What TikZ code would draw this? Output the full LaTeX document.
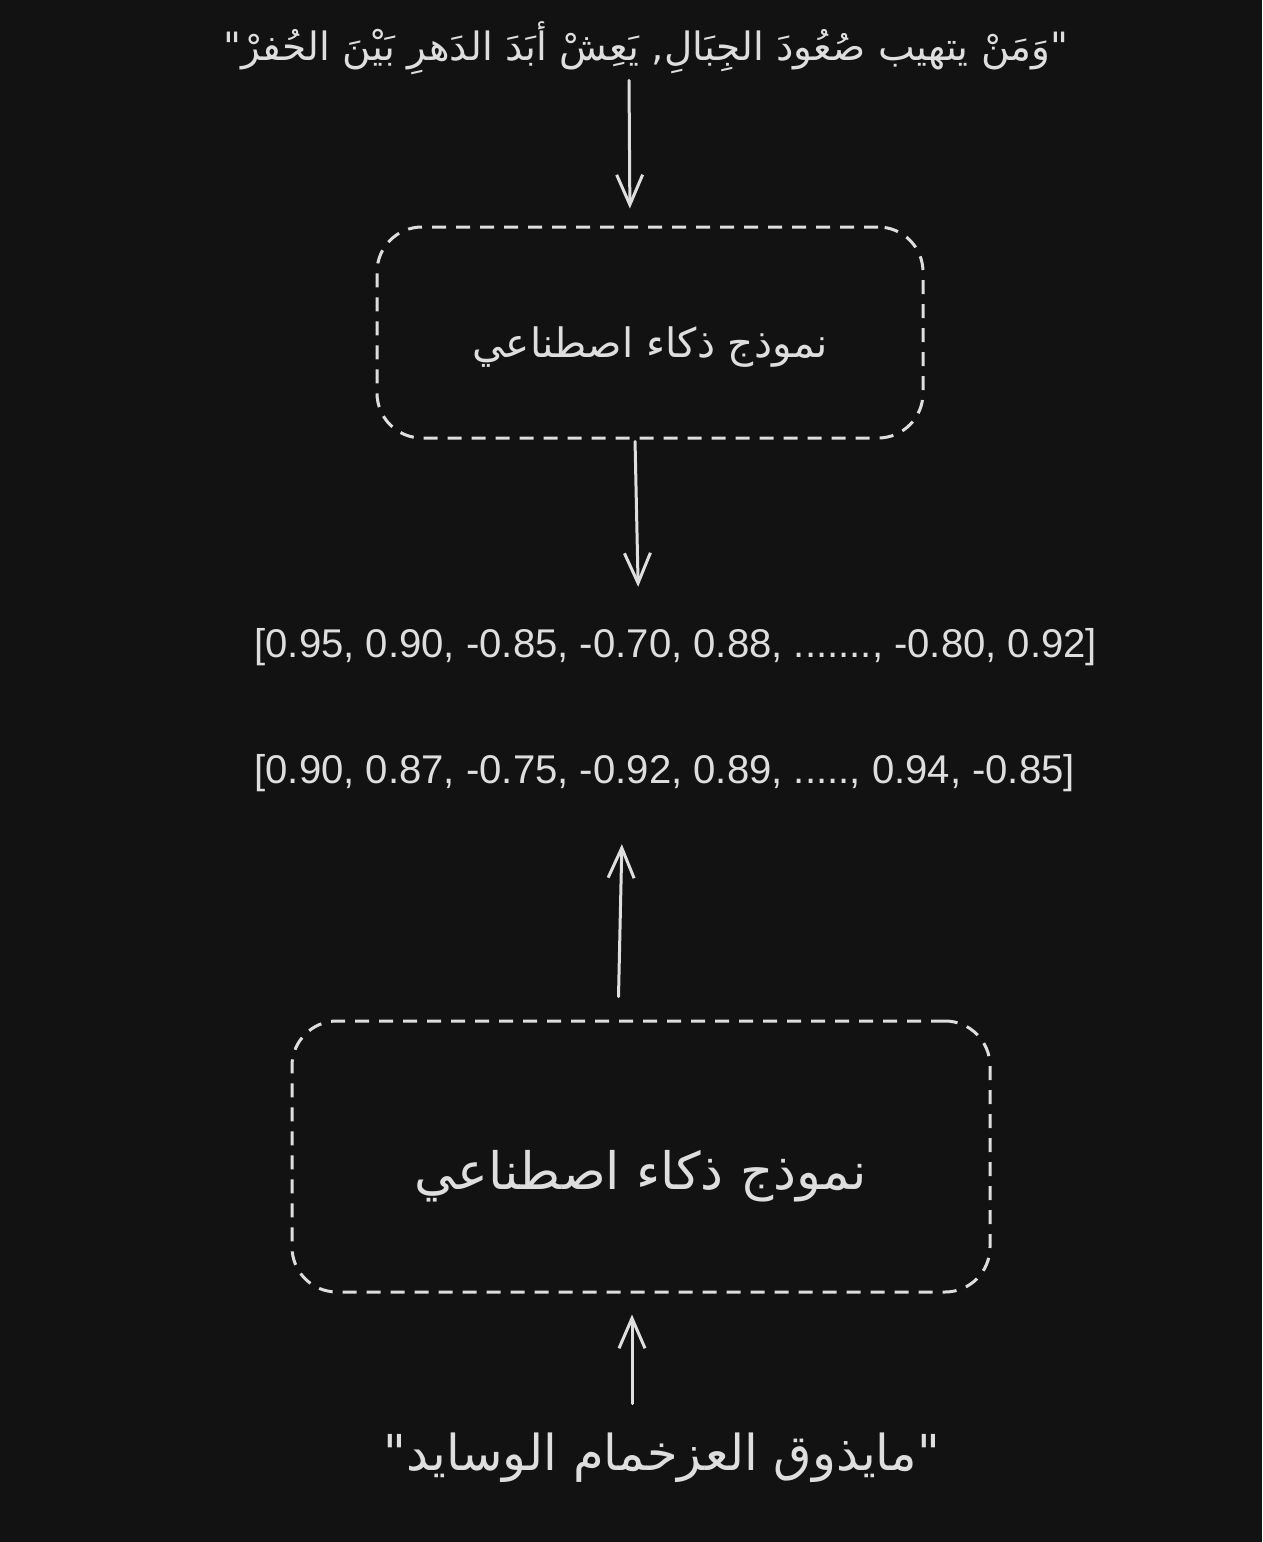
\documentclass[tikz,border=0pt]{standalone}
\usepackage{fontspec}
\setmainfont{Liberation Sans}
\newfontfamily\arabicfont[Script=Arabic]{DejaVu Sans}
\TeXXeTstate=1
\usetikzlibrary{arrows.meta}
\definecolor{bg}{HTML}{121212}
\definecolor{ink}{HTML}{DEDEDE}

\begin{document}
\begin{tikzpicture}[x=1pt, y=-1pt, line width=3pt, color=ink,
    txt/.style = {inner sep=0pt, text=ink},
    model/.style = {draw=ink, dash pattern=on 14pt off 10pt, rounded corners=45pt, inner sep=0pt, text=ink},
    arr/.style = {-{Straight Barb[length=30pt, width=26pt]}, line cap=round}]
    \fill[bg] (0,0) rectangle (1262,1542);
    \useasboundingbox (0,0) rectangle (1262,1542);

    % input sentence and first model
    \node[txt] (quote) at (646,48) {\arabicfont\fontsize{39}{46}\selectfont\beginR"وَمَنْ يتهيب صُعُودَ الجِبَالِ, يَعِشْ أبَدَ الدَهرِ بَيْنَ الحُفرْ"\endR};
    \node[model, minimum width=546pt, minimum height=211pt,
        label={[txt, yshift=-15pt]center:{\arabicfont\fontsize{40.5}{48}\selectfont\beginR نموذج ذكاء اصطناعي\endR}}] (model1) at (650,332.5) {};

    % the two vectors
    \node[txt, anchor=west] (vec1) at (253,647) {\fontsize{40.1}{48}\selectfont [0.95, 0.90, -0.85, -0.70, 0.88, ......., -0.80, 0.92]};
    \node[txt, anchor=west] (vec2) at (253,773) {\fontsize{40.1}{48}\selectfont [0.90, 0.87, -0.75, -0.92, 0.89, ....., 0.94, -0.85]};

    % second model and its input
    \node[model, minimum width=698pt, minimum height=271pt,
        label={[txt, yshift=-20pt]center:{\arabicfont\fontsize{51.5}{60}\selectfont\beginR نموذج ذكاء اصطناعي\endR}}] (model2) at (641,1156.5) {};
    \node[txt] (proverb) at (662,1458) {\arabicfont\fontsize{49.5}{58}\selectfont\beginR"مايذوق العزخمام الوسايد"\endR};

    \path[arr] ([xshift=-17pt]quote.south) edge [shorten <=4pt, shorten >=17pt] ([xshift=-20pt]model1.north);
    \path[arr] ([xshift=-15pt]model1.south) edge [shorten <=2pt, shorten >=40pt] ([xshift=386pt]vec1.north west);
    \path[arr] ([xshift=-23pt]model2.north) edge [shorten <=23pt, shorten >=51pt] ([xshift=370pt]vec2.south west);
    \path[arr] ([xshift=-30pt]proverb.north) edge [shorten <=28pt, shorten >=21pt] ([xshift=-9pt]model2.south);

\end{tikzpicture}
\end{document}
